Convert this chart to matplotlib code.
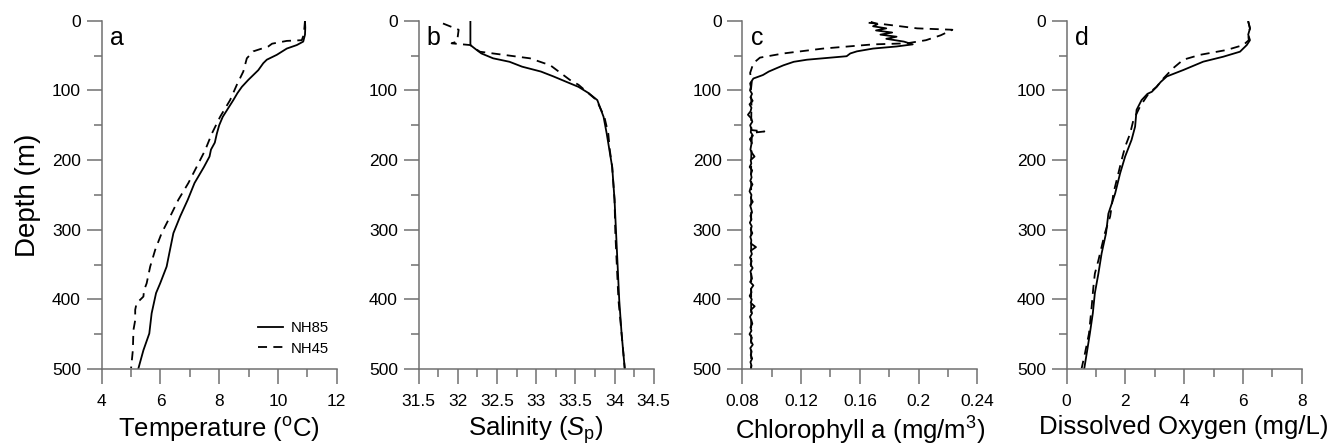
import numpy as np
import matplotlib
matplotlib.use('Agg')
import matplotlib.pyplot as plt
from matplotlib.ticker import MultipleLocator

plt.rcParams['font.family'] = ['Liberation Sans', 'DejaVu Sans']
plt.rcParams['mathtext.fontset'] = 'custom'
plt.rcParams['mathtext.rm'] = 'Liberation Sans'
plt.rcParams['mathtext.it'] = 'Liberation Sans:italic'

# Panel a - temperature (degC)
temp_nh85_depth = [0, 10, 20, 30, 35, 40, 49, 56, 61, 71, 85, 95, 104, 114, 138, 150, 162, 175, 185,
                   195, 210, 233, 257, 281, 305, 334, 353, 377, 391, 420, 449, 473, 499]
temp_nh85 = [10.92, 10.93, 10.92, 10.86, 10.64, 10.3, 9.96, 9.62, 9.5, 9.33, 8.99, 8.77, 8.62, 8.48,
             8.12, 8.0, 7.92, 7.85, 7.72, 7.67, 7.48, 7.16, 6.93, 6.67, 6.44, 6.3, 6.21, 5.99, 5.85,
             5.7, 5.62, 5.42, 5.25]
temp_nh45_depth = [0, 20, 28, 29, 33, 37, 44, 54, 73, 92, 114, 138, 162, 186, 210, 233, 257, 281, 305,
                   329, 353, 377, 387, 396, 401, 405, 415, 430, 444, 473, 499]
temp_nh45 = [10.92, 10.88, 10.81, 10.3, 9.8, 9.67, 9.16, 8.94, 8.82, 8.6, 8.37, 8.03, 7.75, 7.52, 7.23,
             6.95, 6.61, 6.33, 6.04, 5.82, 5.65, 5.53, 5.44, 5.42, 5.3, 5.19, 5.14, 5.14, 5.08, 5.06, 5.0]

# Panel b - salinity
sal_nh85_depth = [0, 35, 42, 47, 54, 59, 66, 73, 80, 88, 95, 104, 114, 138, 162, 210, 257, 305, 353,
                  401, 449, 499]
sal_nh85 = [32.16, 32.16, 32.24, 32.3, 32.45, 32.66, 32.82, 33.06, 33.22, 33.39, 33.54, 33.67, 33.78,
            33.86, 33.9, 33.97, 34.0, 34.02, 34.04, 34.06, 34.09, 34.13]
sal_nh45_depth = [4, 13, 30, 32.5, 35, 44.5, 54, 64, 85, 92, 114, 138, 162, 186, 210, 257, 305, 353,
                  401, 449, 499]
sal_nh45 = [31.81, 32.01, 31.99, 31.92, 32.16, 32.28, 32.92, 33.18, 33.43, 33.54, 33.77, 33.87, 33.92,
            33.94, 33.97, 34.0, 34.01, 34.03, 34.05, 34.09, 34.13]

# Panel c - chlorophyll a (mg/m3)
chl_nh85_depth = [2, 5, 8, 11, 14, 17, 20, 23, 26, 30, 34, 37, 40, 44, 47, 51, 56, 59, 64, 68, 73, 78,
                  83, 90] + list(range(95, 501, 5))
chl_nh85 = [0.168, 0.172, 0.169, 0.178, 0.171, 0.182, 0.174, 0.185, 0.178, 0.190, 0.196, 0.185, 0.169,
            0.158, 0.1535, 0.151, 0.124, 0.115, 0.108, 0.1035, 0.098, 0.094, 0.0875, 0.0853,
            0.0858, 0.0852, 0.0866, 0.0855, 0.0870, 0.0849, 0.0862, 0.0856, 0.0838, 0.0860,
            0.0868, 0.0853, 0.0861, 0.0857, 0.0872, 0.0851, 0.0864, 0.0859, 0.0855, 0.0866,
            0.0883, 0.0857, 0.0861, 0.0850, 0.0867, 0.0858, 0.0863, 0.0854, 0.0869, 0.0856,
            0.0849, 0.0862, 0.0858, 0.0871, 0.0853, 0.0860, 0.0866, 0.0855, 0.0862, 0.0851,
            0.0864, 0.0857, 0.0868, 0.0854, 0.0861, 0.0859, 0.0893, 0.0858, 0.0865, 0.0852,
            0.0863, 0.0856, 0.0870, 0.0855, 0.0861, 0.0866, 0.0853, 0.0875, 0.0858, 0.0862,
            0.0850, 0.0864, 0.0857, 0.0884, 0.0859, 0.0866, 0.0852, 0.0861, 0.0868, 0.0855,
            0.0862, 0.0849, 0.0865, 0.0858, 0.0871, 0.0854, 0.0863, 0.0857, 0.0867, 0.0855,
            0.0862, 0.0858]
chl_nh45_depth = [3, 5, 11, 13, 21, 28, 32.5, 34, 40, 47, 53, 61, 75, 88, 100, 120, 150, 157, 159, 161,
                  200, 300, 400, 500]
chl_nh45 = [0.166, 0.176, 0.199, 0.223, 0.215, 0.205, 0.192, 0.169, 0.135, 0.108, 0.092, 0.0875, 0.0853,
            0.0864, 0.0858, 0.0862, 0.0860, 0.0862, 0.095, 0.0865, 0.086, 0.086, 0.086, 0.086]

# Panel d - dissolved oxygen (mg/L)
do_nh85_depth = [1, 11, 20, 28, 35, 44.5, 51.7, 58.8, 70.8, 80, 88, 95, 102, 105, 114, 128, 152, 171,
                 195, 219, 248, 277, 305, 334, 363, 391, 420, 449, 473, 499]
do_nh85 = [6.18, 6.24, 6.18, 6.24, 6.13, 5.9, 5.33, 4.65, 3.97, 3.41, 3.2, 3.06, 2.9, 2.75, 2.55, 2.38,
           2.33, 2.21, 1.99, 1.82, 1.65, 1.42, 1.34, 1.19, 1.08, 0.96, 0.89, 0.79, 0.7, 0.6]
do_nh45_depth = [1, 11, 20, 28, 35, 42, 49, 56, 68, 83, 95, 104, 123, 143, 162, 181, 200, 219, 248, 267,
                 281, 305, 344, 363, 382, 411, 449, 478, 499]
do_nh45 = [6.18, 6.24, 6.18, 6.2, 6.01, 5.45, 4.54, 3.97, 3.63, 3.29, 3.06, 2.8, 2.5, 2.27, 2.16, 1.99,
           1.87, 1.76, 1.59, 1.53, 1.48, 1.3, 1.08, 0.96, 0.91, 0.85, 0.76, 0.62, 0.51]

panels = [
    ('a', temp_nh85, temp_nh85_depth, temp_nh45, temp_nh45_depth, (4, 12), 2, 1,
     'Temperature ($^{\\mathrm{o}}$C)', ['4', '6', '8', '10', '12']),
    ('b', sal_nh85, sal_nh85_depth, sal_nh45, sal_nh45_depth, (31.5, 34.5), 0.5, 0.25,
     'Salinity ($\\mathit{S}_{\\mathrm{p}}$)', ['31.5', '32', '32.5', '33', '33.5', '34', '34.5']),
    ('c', chl_nh85, chl_nh85_depth, chl_nh45, chl_nh45_depth, (0.08, 0.24), 0.04, 0.02,
     'Chlorophyll a (mg/m$^{3}$)', ['0.08', '0.12', '0.16', '0.2', '0.24']),
    ('d', do_nh85, do_nh85_depth, do_nh45, do_nh45_depth, (0, 8), 2, 1,
     'Dissolved Oxygen (mg/L)', ['0', '2', '4', '6', '8']),
]

fig = plt.figure(figsize=(13.33, 4.46), dpi=100)
lefts = [0.0763, 0.3141, 0.5569, 0.8002]
spine_col = '#707070'

for left, (letter, x85, d85, x45, d45, xlim, major, minor, xlabel, xticklabels) in zip(lefts, panels):
    ax = fig.add_axes([left, 0.1726, 0.1763, 0.781])
    ax.plot(x85, d85, color='black', lw=1.3, label='NH85')
    ax.plot(x45, d45, color='black', lw=1.3, ls=(0, (5, 3.5)), label='NH45')
    ax.set_xlim(*xlim)
    ax.set_ylim(500, 0)
    ticks = np.arange(xlim[0], xlim[1] + major / 2, major)
    ax.set_xticks(ticks)
    ax.set_xticklabels(xticklabels)
    ax.xaxis.set_minor_locator(MultipleLocator(minor))
    ax.yaxis.set_major_locator(MultipleLocator(100))
    ax.yaxis.set_minor_locator(MultipleLocator(50))
    for s in ['top', 'right']:
        ax.spines[s].set_visible(False)
    for s in ['left', 'bottom']:
        ax.spines[s].set_color(spine_col)
        ax.spines[s].set_linewidth(1.1)
    ax.tick_params(which='major', length=11, width=1.1, color=spine_col, labelsize=12.5)
    ax.tick_params(which='minor', length=5.5, width=1.1, color=spine_col)
    ax.tick_params(axis='x', which='major', pad=7)
    ax.tick_params(axis='y', which='major', pad=4)
    ax.set_xlabel(xlabel, fontsize=18.5, labelpad=4)
    ax.text(0.035, 0.985, letter, transform=ax.transAxes, fontsize=18, va='top', ha='left')
    if letter == 'a':
        ax.set_ylabel('Depth (m)', fontsize=20, labelpad=8)
        ax.legend(loc='lower right', bbox_to_anchor=(1.025, 0.0), frameon=False, fontsize=10.7,
                  handlelength=1.65, handletextpad=0.55, labelspacing=0.45)

fig.savefig('out.png', dpi=100)
